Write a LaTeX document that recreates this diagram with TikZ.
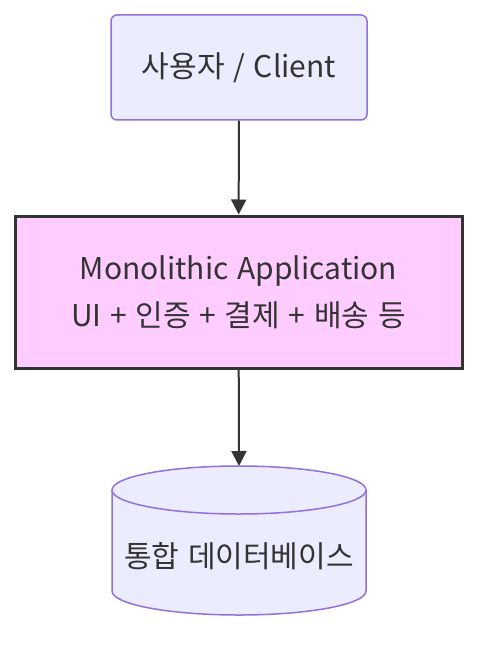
\documentclass[tikz,border=0pt]{standalone}
\usepackage{fontspec}
\setmainfont[WordSpace=1.3]{Noto Sans CJK KR}
\usetikzlibrary{arrows.meta}
\definecolor{nodefill}{HTML}{ECECFF}
\definecolor{nodeline}{HTML}{9370DB}
\definecolor{appfill}{HTML}{FFCCFF}
\definecolor{dark}{HTML}{333333}
\tikzset{
  client/.style={draw=nodeline, fill=nodefill, line width=1.5pt, rounded corners=6pt, minimum width=256pt, minimum height=105pt, inner sep=0pt, text=dark, font=\fontsize{30}{36}\selectfont},
  app/.style={draw=dark, fill=appfill, line width=3pt, minimum width=447pt, minimum height=152pt, inner sep=0pt, text=dark, align=center, font=\fontsize{30}{47}\selectfont},
  dbtext/.style={text=dark, inner sep=0pt, font=\fontsize{30}{36}\selectfont},
  cyl/.style={draw=nodeline, fill=nodefill, line width=1.5pt},
  link/.style={draw=dark, line width=2pt, -{Triangle[length=15pt,width=15pt]}}
}
\begin{document}
\begin{tikzpicture}[x=1pt,y=-1pt]
\useasboundingbox (0,0) rectangle (494,652);
\node[client] (client) at (239,67.5) {사용자 / Client};
\node[app] (app) at (238.5,292) {Monolithic Application\\UI + 인증 + 결제 + 배송 등};
% cylinder
\filldraw[cyl]
  (112,490) -- (112,591) arc[start angle=180, end angle=0, x radius=127, y radius=24]
  -- (366,490) arc[start angle=0, end angle=-180, x radius=127, y radius=24] -- cycle;
\draw[cyl, fill=none] (112,490) arc[start angle=180, end angle=0, x radius=127, y radius=24];
\coordinate (dbtop) at (239,466);
\node[dbtext] (db) at (239,556) {통합 데이터베이스};
\draw[link] (client) -- (app);
\draw[link] (app) -- (dbtop);
\end{tikzpicture}
\end{document}
